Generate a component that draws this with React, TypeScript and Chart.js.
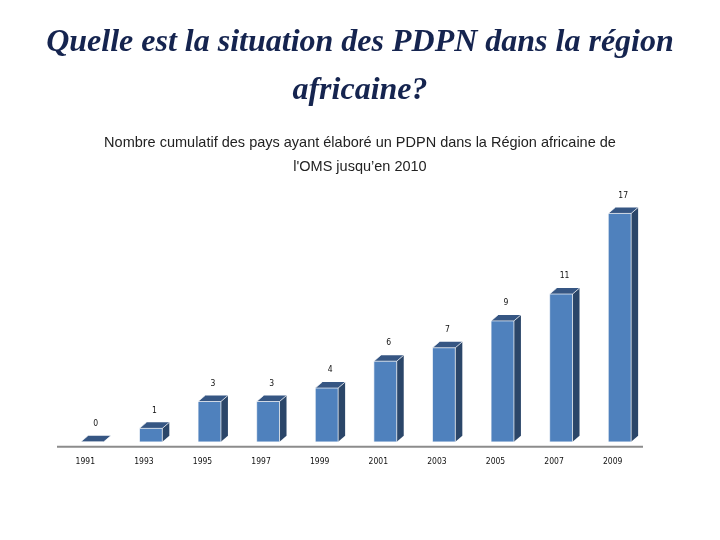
import React, { useEffect, useRef } from "react";
import { Chart, registerables } from "chart.js";

Chart.register(...registerables);

const titleLines = ["Quelle est la situation des PDPN dans la région", "africaine?"];
const subtitleLines = [
  "Nombre cumulatif des pays ayant élaboré un PDPN dans la Région africaine de",
  "l'OMS jusqu’en 2010",
];
const years = ["1991", "1993", "1995", "1997", "1999", "2001", "2003", "2005", "2007", "2009"];
const counts = [0, 1, 3, 3, 4, 6, 7, 9, 11, 17];

const FRONT = "#4F81BD";
const SIDE = "#2B4669";
const TOP = "#365683";
const DX = 7;
const DY = -6;
const SMALL_FONT = '"DejaVu Sans Condensed", "DejaVu Sans", sans-serif';

const bar3d = {
  id: "bar3d",
  beforeDatasetsDraw(chart: any) {
    const { ctx, chartArea, scales } = chart;
    const y0 = scales.y.getPixelForValue(0);
    ctx.save();
    ctx.strokeStyle = "#8C8C8C";
    ctx.lineWidth = 2;
    ctx.beginPath();
    ctx.moveTo(chartArea.left - 6, y0 + 5);
    ctx.lineTo(chartArea.right - 6, y0 + 5);
    ctx.stroke();
    ctx.restore();
  },
  afterDatasetsDraw(chart: any) {
    const { ctx } = chart;
    const meta = chart.getDatasetMeta(0);
    ctx.save();
    meta.data.forEach((el: any, i: number) => {
      const { x, y, base, width } = el.getProps(["x", "y", "base", "width"], true);
      const l = x - width / 2;
      const r = x + width / 2;
      ctx.fillStyle = SIDE;
      ctx.beginPath();
      ctx.moveTo(r, y);
      ctx.lineTo(r + DX, y + DY);
      ctx.lineTo(r + DX, base + DY);
      ctx.lineTo(r, base);
      ctx.closePath();
      ctx.fill();
      ctx.fillStyle = TOP;
      ctx.beginPath();
      ctx.moveTo(l, y);
      ctx.lineTo(l + DX, y + DY);
      ctx.lineTo(r + DX, y + DY);
      ctx.lineTo(r, y);
      ctx.closePath();
      ctx.fill();
      ctx.strokeStyle = "rgba(255,255,255,0.85)";
      ctx.lineWidth = 0.8;
      ctx.beginPath();
      ctx.moveTo(l, base);
      ctx.lineTo(l, y);
      ctx.lineTo(r, y);
      ctx.lineTo(r, base);
      ctx.moveTo(l, y);
      ctx.lineTo(l + DX, y + DY);
      ctx.moveTo(r, y);
      ctx.lineTo(r + DX, y + DY);
      ctx.stroke();
      ctx.fillStyle = "#111";
      ctx.font = "8.5px " + SMALL_FONT;
      ctx.textAlign = "center";
      ctx.textBaseline = "middle";
      ctx.fillText(String(counts[i]), x + DX / 2, y + DY - 12);
    });
    ctx.restore();
  },
};

export default function App() {
  const ref = useRef<HTMLCanvasElement | null>(null);
  useEffect(() => {
    if (!ref.current) return;
    const chart = new Chart(ref.current, {
      type: "bar",
      data: {
        labels: years,
        datasets: [
          {
            data: counts,
            backgroundColor: FRONT,
            borderWidth: 0,
            categoryPercentage: 1,
            barPercentage: 0.39,
          },
        ],
      },
      options: {
        animation: false,
        responsive: true,
        maintainAspectRatio: false,
        layout: { padding: { left: 0, right: 0, top: 0, bottom: 66 } },
        plugins: {
          legend: { display: false },
          tooltip: { enabled: false },
          title: {
            display: true,
            text: titleLines,
            color: "#15244F",
            font: { family: '"Liberation Serif", "Times New Roman", serif', size: 32, weight: "bold", style: "italic", lineHeight: 48 / 32 },
            padding: { top: 19, bottom: 0 },
          },
          subtitle: {
            display: true,
            text: subtitleLines,
            color: "#222",
            font: { family: '"Liberation Sans", Arial, sans-serif', size: 14.5, weight: "normal", lineHeight: 24 / 14.5 },
            padding: { top: 16, bottom: 21 },
          },
        },
        scales: {
          x: {
            grid: { display: false },
            border: { display: false },
            ticks: {
              autoSkip: false,
              maxRotation: 0,
              padding: 7,
              labelOffset: -7,
              color: "#111",
              font: { family: SMALL_FONT, size: 8.5 },
            },
          },
          y: {
            display: true,
            position: "left",
            min: 0,
            max: 18,
            grid: { display: false },
            border: { display: false },
            ticks: { display: false },
            afterFit: (s: any) => {
              s.width = 63;
            },
          },
          yRight: {
            display: true,
            position: "right",
            min: 0,
            max: 18,
            grid: { display: false },
            border: { display: false },
            ticks: { display: false },
            afterFit: (s: any) => {
              s.width = 71;
            },
          },
        },
      },
      plugins: [bar3d],
    });
    return () => chart.destroy();
  }, []);
  return (
    <div style={{ position: "fixed", left: 0, top: 0, width: 720, height: 540, background: "#fff" }}>
      <canvas ref={ref} />
    </div>
  );
}
